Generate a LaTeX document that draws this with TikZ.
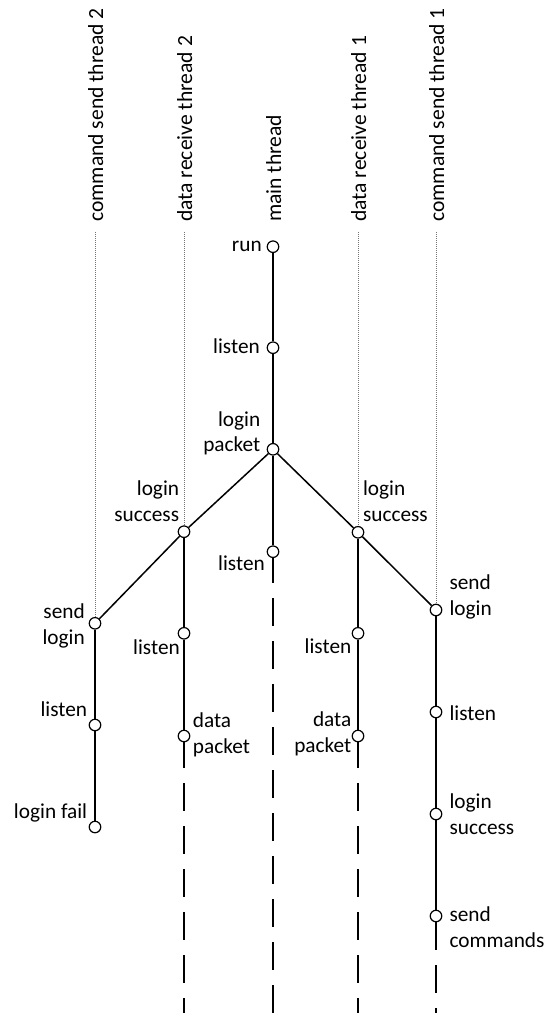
\documentclass[tikz,border=0pt]{standalone}
\usepackage{fontspec}
\setmainfont{Carlito}

\begin{document}
\begin{tikzpicture}[x=1pt,y=-1pt,
  every node/.style={inner sep=0pt,font=\fontsize{21.3}{25.7}\selectfont},
  ev/.style={circle,draw,fill=white,minimum size=11.5pt,line width=1.2pt},
  title/.style={rotate=90,anchor=base west,font=\fontsize{21.6}{26}\selectfont},
  thr/.style={line width=2pt},
  br/.style={line width=1.5pt},
  fut/.style={line width=2pt,dash pattern=on 28pt off 15pt,dash phase=28pt},
  idle/.style={black!55,line width=0.9pt,dash pattern=on 1pt off 1pt}]
  \useasboundingbox (0,0) rectangle (548,1013);
  % thread names
  \node[title] (tc2) at (103,222) {command send thread 2};
  \node[title] (td2) at (192,222) {data receive thread 2};
  \node[title] (tm) at (281,222) {main thread};
  \node[title] (td1) at (366,222) {data receive thread 1};
  \node[title] (tc1) at (444,222) {command send thread 1};
  % main thread
  \node[ev] (run) at (273,246.7) {};
  \node[ev] (mlis1) at (273,347.7) {};
  \node[ev] (pkt) at (273,449.3) {};
  \node[ev] (mlis2) at (273,551.7) {};
  % data receive threads
  \node[ev] (rs2) at (184,531.7) {};
  \node[ev] (rl2) at (184,633.3) {};
  \node[ev] (rd2) at (184,736) {};
  \node[ev] (rs1) at (358,532.3) {};
  \node[ev] (rl1) at (358,633.3) {};
  \node[ev] (rd1) at (358,736) {};
  % command send threads
  \node[ev] (cl2) at (95,623.3) {};
  \node[ev] (cw2) at (95,725) {};
  \node[ev] (cf2) at (95,827) {};
  \node[ev] (cl1) at (436,610) {};
  \node[ev] (cw1) at (436,712) {};
  \node[ev] (cs1) at (436,814) {};
  \node[ev] (cc1) at (436,916) {};
  % ends of the lines
  \coordinate (c2top) at (95,232);
  \coordinate (d2top) at (184,232);
  \coordinate (d1top) at (358,232);
  \coordinate (c1top) at (436,232);
  \coordinate (mEnd) at (273,583);
  \coordinate (mBot) at (273,1013);
  \coordinate (d2End) at (184,768);
  \coordinate (d2Bot) at (184,1013);
  \coordinate (d1End) at (358,768);
  \coordinate (d1Bot) at (358,1013);
  \coordinate (c1End) at (436,950);
  \coordinate (c1Bot) at (436,1013);
  % idle parts
  \draw[idle] (c2top) -- (cl2);
  \draw[idle] (d2top) -- (rs2);
  \draw[idle] (d1top) -- (rs1);
  \draw[idle] (c1top) -- (cl1);
  % running parts
  \draw[thr] (run) -- (mlis1) -- (pkt) -- (mlis2) -- (mEnd);
  \draw[fut] (mEnd) -- (mBot);
  \draw[br] (pkt) -- (rs2) -- (cl2);
  \draw[br] (pkt) -- (rs1) -- (cl1);
  \draw[thr] (rs2) -- (rl2) -- (rd2) -- (d2End);
  \draw[fut] (d2End) -- (d2Bot);
  \draw[thr] (rs1) -- (rl1) -- (rd1) -- (d1End);
  \draw[fut] (d1End) -- (d1Bot);
  \draw[thr] (cl2) -- (cw2) -- (cf2);
  \draw[thr] (cl1) -- (cw1) -- (cs1) -- (cc1) -- (c1End);
  \draw[fut] (c1End) -- (c1Bot);
  % labels
  \node[anchor=base east] (runL) at ([shift={(-11,4.5)}]run.center) {run};
  \node[anchor=base east] (mlis1L) at ([shift={(-13,5.6)}]mlis1.center) {listen};
  \node[anchor=base east,align=right] (pktL) at ([shift={(-12.5,2.4)}]pkt.center) {login\\packet};
  \node[anchor=base east] (mlis2L) at ([shift={(-8,18.3)}]mlis2.center) {listen};
  \node[anchor=base east,align=right] (rs2L) at ([shift={(-4.7,-10.3)}]rs2.center) {login\\success};
  \node[anchor=base east] (rl2L) at ([shift={(-4,21)}]rl2.center) {listen};
  \node[anchor=base west,align=left] (rd2L) at ([shift={(8.7,17)}]rd2.center) {data\\packet};
  \node[anchor=base west,align=left] (rs1L) at ([shift={(4.8,-11.3)}]rs1.center) {login\\success};
  \node[anchor=base east] (rl1L) at ([shift={(-6.5,19.7)}]rl1.center) {listen};
  \node[anchor=base east,align=right] (rd1L) at ([shift={(-6.5,16.4)}]rd1.center) {data\\packet};
  \node[anchor=base east,align=right] (cl2L) at ([shift={(-10,20.7)}]cl2.center) {send\\login};
  \node[anchor=base east] (cw2L) at ([shift={(-7.7,-8.3)}]cw2.center) {listen};
  \node[anchor=base east] (cf2L) at ([shift={(-7.7,-8.7)}]cf2.center) {login fail};
  \node[anchor=base west,align=left] (cl1L) at ([shift={(13.3,5)}]cl1.center) {send\\login};
  \node[anchor=base west] (cw1L) at ([shift={(13.3,8)}]cw1.center) {listen};
  \node[anchor=base west,align=left] (cs1L) at ([shift={(13.3,20)}]cs1.center) {login\\success};
  \node[anchor=base west,align=left] (cc1L) at ([shift={(13.3,31.4)}]cc1.center) {send\\commands};
\end{tikzpicture}
\end{document}
